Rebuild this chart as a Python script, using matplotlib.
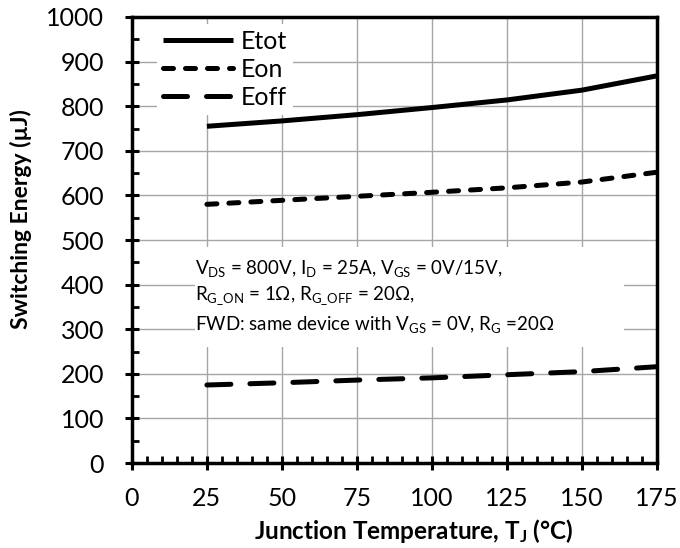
import matplotlib
matplotlib.use("Agg")
import matplotlib.pyplot as plt
from matplotlib.ticker import MultipleLocator
from matplotlib.patches import Rectangle

plt.rcParams['font.family'] = ['Lato', 'DejaVu Sans']
plt.rcParams['mathtext.fontset'] = 'custom'
plt.rcParams['mathtext.rm'] = 'Lato'
plt.rcParams['mathtext.it'] = 'Lato:italic'
plt.rcParams['mathtext.bf'] = 'Lato:bold'

temps = [25, 50, 75, 100, 125, 150, 175]
etot = [755, 767, 781, 797, 814, 836, 868]
eon = [580, 589, 598, 607, 617, 630, 652]
eoff = [175, 180, 186, 191, 198, 205, 216]

x_ticks = [0, 25, 50, 75, 100, 125, 150, 175]
y_ticks = [0, 100, 200, 300, 400, 500, 600, 700, 800, 900, 1000]

fig = plt.figure(figsize=(6.8, 5.48), dpi=100)
ax = fig.add_axes([0.194, 0.155, 0.772, 0.814])

lw = 3.6
ax.plot(temps, etot, color='black', lw=lw, label='Etot', solid_capstyle='butt', zorder=3)
ax.plot(temps, eon, color='black', lw=lw, linestyle=(0, (2.0, 2.4)),
        dash_capstyle='round', label='Eon', zorder=3)
ax.plot(temps, eoff, color='black', lw=lw, linestyle=(0, (4.8, 3.8)),
        dash_capstyle='round', label='Eoff', zorder=3)

ax.set_xlim(0, 175)
ax.set_ylim(0, 1000)
ax.set_xticks(x_ticks)
ax.set_yticks(y_ticks)
ax.xaxis.set_minor_locator(MultipleLocator(5))
ax.yaxis.set_minor_locator(MultipleLocator(50))
ax.grid(True, which='major', color='#a6a6a6', lw=1.0, zorder=0)
ax.set_axisbelow(True)

for s in ['left', 'bottom', 'top', 'right']:
    ax.spines[s].set_linewidth(2.5)

ax.tick_params(which='major', direction='inout', length=10, width=2.2,
               labelsize=18, top=False, right=False)
ax.tick_params(axis='x', which='major', pad=12)
ax.tick_params(axis='y', which='major', pad=15)
ax.tick_params(which='minor', direction='in', length=5, width=2.0,
               top=False, right=False)

ax.set_xlabel('Junction Temperature, T$_\\mathbf{J}$ (°C)', fontsize=17.5, fontweight='bold',
              va='center')
ax.set_ylabel('Switching Energy (µJ)', fontsize=16.5, fontweight='bold', va='center')
ax.xaxis.set_label_coords(0.537, -0.152)
ax.yaxis.set_label_coords(-0.211, 0.547)

leg = ax.legend(loc='upper left', bbox_to_anchor=(0.048, 0.985), frameon=True,
                fontsize=18, handlelength=2.8, handletextpad=0.3,
                labelspacing=0.2, borderpad=0.25, borderaxespad=0.0)
leg.get_frame().set_edgecolor('none')
leg.get_frame().set_facecolor('white')
leg.get_frame().set_alpha(1.0)
leg.get_frame().set_boxstyle('square', pad=0)

ax.add_patch(Rectangle((21, 260), 143, 224, facecolor='white', edgecolor='none', zorder=1))
note = ('V$_{\\mathrm{DS}}$ = 800V, I$_{\\mathrm{D}}$ = 25A, V$_{\\mathrm{GS}}$ = 0V/15V,\n'
        'R$_{\\mathrm{G\\_ON}}$ = 1Ω, R$_{\\mathrm{G\\_OFF}}$ = 20Ω,\n'
        'FWD: same device with V$_{\\mathrm{GS}}$ = 0V, R$_{\\mathrm{G}}$ =20Ω')
ax.text(21, 374, note, fontsize=13.5, ha='left', va='center', linespacing=1.4, zorder=2)

fig.savefig('out.png', dpi=100)
